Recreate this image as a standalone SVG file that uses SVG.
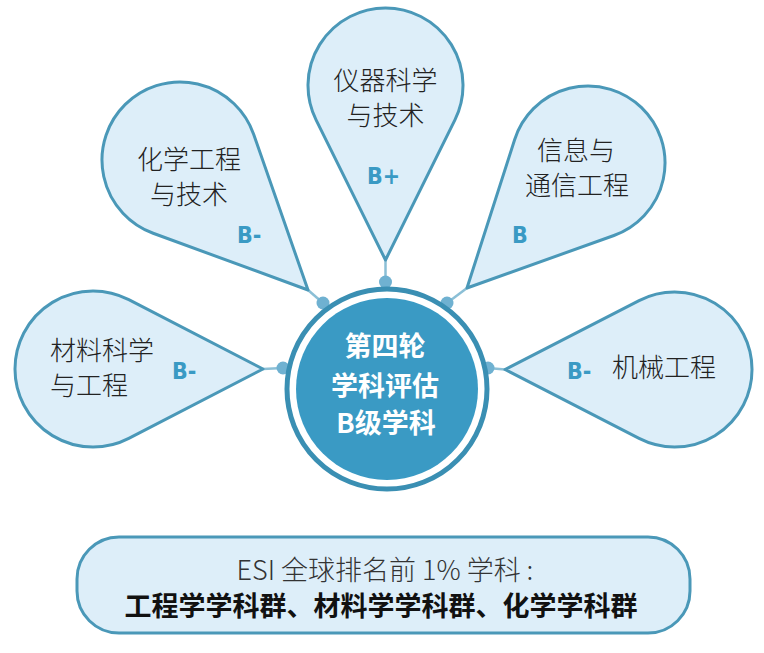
<svg xmlns="http://www.w3.org/2000/svg" width="764" height="653" viewBox="0 0 764 653">
<style>
.pin{fill:#ddeef9;stroke:#4a98b8;stroke-width:3;stroke-linejoin:round}
.lbl{font-family:"Noto Sans CJK SC","Noto Sans",sans-serif;font-size:26px;font-weight:300;fill:#222}
.grade{font-family:"DejaVu Sans Condensed","DejaVu Sans","Liberation Sans",sans-serif;font-size:23px;font-weight:bold;fill:#3a9ac4}
.ctr{font-family:"Noto Sans CJK SC","Noto Sans",sans-serif;font-size:27px;font-weight:bold;fill:#ffffff;text-anchor:middle}
.link{stroke:#8bbfd6;stroke-width:2.5}
.dot{fill:#6fb1d1}
</style>
<rect width="764" height="653" fill="#ffffff"/>
<g id="connectors">
<line class="link" x1="385.5" y1="260" x2="385.5" y2="282"/>
<line class="link" x1="308" y1="290" x2="323" y2="303"/>
<line class="link" x1="467" y1="288" x2="447" y2="303"/>
<line class="link" x1="263" y1="369" x2="283" y2="368"/>
<line class="link" x1="505" y1="369.5" x2="488" y2="368"/>
<circle class="dot" cx="385.5" cy="282" r="6.5"/>
<circle class="dot" cx="323" cy="303" r="6.5"/>
<circle class="dot" cx="447" cy="303" r="6.5"/>
<circle class="dot" cx="283" cy="368" r="6.5"/>
<circle class="dot" cx="488" cy="368" r="6.5"/>
</g>
<g id="pin-top">
<path class="pin" d="M385.5,260 L316.06,119.92 A77.5,77.5 0 1 1 454.94,119.92 Z"/>
<text class="lbl" text-anchor="middle"><tspan x="385.5" y="89.5">仪器科学</tspan><tspan x="385.5" y="124.5">与技术</tspan></text>
<text class="grade" x="367" y="184">B+</text>
</g>
<g id="pin-upper-left">
<path class="pin" d="M308,290 L153.14,233.23 A78,78 0 1 1 253.64,134.29 Z"/>
<text class="lbl" text-anchor="middle"><tspan x="189" y="169">化学工程</tspan><tspan x="189" y="204">与技术</tspan></text>
<text class="grade" x="237" y="243">B-</text>
</g>
<g id="pin-upper-right">
<path class="pin" d="M467,288 L514.69,139.46 A77,77 0 1 1 613.91,235.51 Z"/>
<text class="lbl" text-anchor="middle"><tspan x="576" y="160">信息与</tspan><tspan x="577" y="195">通信工程</tspan></text>
<text class="grade" x="512" y="243">B</text>
</g>
<g id="pin-left">
<path class="pin" d="M263,369 L128.79,438.3 A78,78 0 1 1 128.79,299.7 Z"/>
<text class="lbl"><tspan x="50" y="359.5">材料科学</tspan><tspan x="50" y="394.5">与工程</tspan></text>
<text class="grade" x="172" y="379">B-</text>
</g>
<g id="pin-right">
<path class="pin" d="M505,369.5 L639.07,300.58 A77.5,77.5 0 1 1 639.07,438.42 Z"/>
<text class="lbl" x="612" y="377">机械工程</text>
<text class="grade" x="567" y="379">B-</text>
</g>
<g id="center">
<circle cx="387" cy="389" r="100" fill="#ffffff" stroke="#3a8fb3" stroke-width="5"/>
<circle cx="387" cy="389" r="91" fill="#3a9ac4"/>
<text class="ctr"><tspan x="385" y="356">第四轮</tspan><tspan x="385" y="396">学科评估</tspan><tspan x="386" y="433">B级学科</tspan></text>
</g>
<g id="esi-box">
<rect x="77" y="537" width="613" height="96" rx="42" ry="42" fill="#ddeef9" stroke="#4a98b8" stroke-width="3"/>
<text text-anchor="middle" font-family="Noto Sans CJK SC, Noto Sans, sans-serif"><tspan x="385" y="580" font-size="27" font-weight="300" fill="#333333">ESI 全球排名前 1% 学科 :</tspan><tspan x="381" y="616" font-size="27" font-weight="bold" fill="#111111">工程学学科群、材料学学科群、化学学科群</tspan></text>
</g>
</svg>
